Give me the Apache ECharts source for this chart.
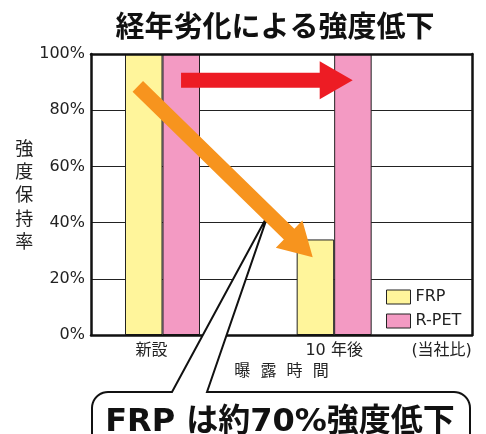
<!DOCTYPE html>
<html>
<head>
<meta charset="utf-8">
<script src="https://cdn.jsdelivr.net/npm/echarts@6/dist/echarts.min.js"></script>
<style>
  html, body { margin: 0; padding: 0; background: #fff; }
  #chart { width: 486px; height: 434px; }
</style>
</head>
<body>
<div id="chart"></div>
<script>
// Strength retention before and after 10 years of exposure
const periods = ['新設', '10 年後'];
const periodX = [0, 1];
const frpRetention = [100, 34];
const rpetRetention = [100, 100];
const yTickValues = [0, 20, 40, 60, 80, 100];
const noteText = '(当社比)';
const seriesNames = ['FRP', 'R-PET'];

// where the bottom labels sit along the x value axis
const xLabelValues = [-0.064, 1.0, 1.626];
const xLabelTexts = [periods[0], periods[1], noteText];

const LATIN = '"DejaVu Sans", "Noto Sans CJK JP", sans-serif';
const CJK = '"Noto Sans CJK JP", sans-serif';

const chart = echarts.init(document.getElementById('chart'), null, { renderer: 'canvas' });

const X_MIN = -0.4166, X_MAX = 1.803;

function frameLine() {
  return { show: true, onZero: false, lineStyle: { color: '#111', width: 2.5 } };
}

function lineOnlyAxis(extra) {
  return Object.assign({
    axisLabel: { show: false },
    axisTick: { show: false },
    splitLine: { show: false },
    axisLine: frameLine()
  }, extra);
}

chart.setOption({
  animation: false,
  backgroundColor: '#fff',
  grid: { left: 91, right: 14, top: 54, bottom: 99 },
  legend: {
    data: seriesNames,
    orient: 'vertical',
    left: 386,
    top: 289,
    padding: 0,
    itemWidth: 24,
    itemHeight: 14,
    itemGap: 8,
    icon: 'rect',
    itemStyle: { borderColor: '#222', borderWidth: 1 },
    textStyle: { fontFamily: LATIN, fontSize: 16, color: '#222' }
  },
  xAxis: [
    {
      type: 'value',
      min: X_MIN,
      max: X_MAX,
      z: 10,
      splitLine: { show: false },
      axisTick: { show: false },
      axisLine: frameLine(),
      axisLabel: {
        customValues: xLabelValues,
        margin: 8,
        fontFamily: LATIN,
        fontSize: 16,
        color: '#222',
        formatter: function (v) {
          for (let i = 0; i < xLabelValues.length; i++) {
            if (Math.abs(xLabelValues[i] - v) < 1e-6) return xLabelTexts[i];
          }
          return '';
        }
      },
      name: '曝  露  時  間',
      nameLocation: 'middle',
      nameGap: 28,
      nameTextStyle: { fontFamily: LATIN, fontSize: 16, color: '#222' }
    },
    lineOnlyAxis({ type: 'value', position: 'top', min: X_MIN, max: X_MAX, z: 10 })
  ],
  yAxis: [
    {
      type: 'value',
      min: 0,
      max: 100,
      interval: 20,
      axisTick: { show: false },
      axisLine: frameLine(),
      splitLine: { show: true, lineStyle: { color: '#222', width: 1 } },
      axisLabel: {
        formatter: '{value}%',
        margin: 6,
        fontFamily: LATIN,
        fontSize: 16,
        color: '#222',
        customValues: yTickValues
      },
      name: '強\n度\n保\n持\n率',
      nameLocation: 'middle',
      nameRotate: 0,
      nameGap: 55,
      nameTextStyle: { fontFamily: CJK, fontSize: 18, lineHeight: 23.3, color: '#222' }
    },
    lineOnlyAxis({ type: 'value', position: 'right', min: 0, max: 100, z: 10 })
  ],
  series: [
    {
      name: seriesNames[0],
      type: 'bar',
      xAxisIndex: 0,
      yAxisIndex: 0,
      barWidth: 37.5,
      barGap: '0%',
      itemStyle: { color: '#FFF59B', borderColor: '#222', borderWidth: 1 },
      data: periodX.map((x, i) => [x, frpRetention[i]])
    },
    {
      name: seriesNames[1],
      type: 'bar',
      xAxisIndex: 0,
      yAxisIndex: 0,
      barWidth: 37.5,
      barGap: '0%',
      itemStyle: { color: '#F39AC3', borderColor: '#222', borderWidth: 1 },
      data: periodX.map((x, i) => [x, rpetRetention[i]])
    }
  ]
});

// ---- annotations: arrows and callout, anchored in data coordinates ----
function toPx(pt) {
  return chart.convertToPixel({ xAxisIndex: 0, yAxisIndex: 0 }, pt);
}

function arrowPoints(s, e, shaftHalf, headLen, headHalf) {
  const dx = e[0] - s[0], dy = e[1] - s[1];
  const len = Math.sqrt(dx * dx + dy * dy);
  const ux = dx / len, uy = dy / len;
  const nx = -uy, ny = ux;
  const bx = e[0] - ux * headLen, by = e[1] - uy * headLen;
  return [
    [s[0] + nx * shaftHalf, s[1] + ny * shaftHalf],
    [bx + nx * shaftHalf, by + ny * shaftHalf],
    [bx + nx * headHalf, by + ny * headHalf],
    [e[0], e[1]],
    [bx - nx * headHalf, by - ny * headHalf],
    [bx - nx * shaftHalf, by - ny * shaftHalf],
    [s[0] - nx * shaftHalf, s[1] - ny * shaftHalf]
  ];
}

// quarter-circle corner points, from angle a0 to a1 (radians)
function cornerPts(cx, cy, r, a0, a1) {
  const pts = [];
  const n = 10;
  for (let i = 0; i <= n; i++) {
    const a = a0 + (a1 - a0) * i / n;
    pts.push([cx + r * Math.cos(a), cy + r * Math.sin(a)]);
  }
  return pts;
}

// R-PET keeps its strength; FRP drops
const keepArrow = { from: [0.108, 90.7], to: [1.108, 90.7], color: '#ED1C24' };
const dropArrow = { from: [-0.144, 88.5], to: [0.875, 27.7], color: '#F7941E' };
const calloutTip = [0.616, 43.0];

const tip = toPx(calloutTip);
const box = { l: 92, r: 470, t: 392, b: 480, rad: 16, tailL: 172, tailR: 207 };
const calloutPts = [[box.tailL, box.t]]
  .concat(cornerPts(box.l + box.rad, box.t + box.rad, box.rad, -Math.PI / 2, -Math.PI))
  .concat([[box.l, box.b], [box.r, box.b]])
  .concat(cornerPts(box.r - box.rad, box.t + box.rad, box.rad, 0, -Math.PI / 2))
  .concat([[box.tailR, box.t], [tip[0], tip[1]]]);

const graphics = [
  {
    type: 'text',
    x: 275, y: 26, z: 100,
    style: {
      text: '経年劣化による強度低下',
      fontFamily: CJK, fontSize: 29, fontWeight: 'bold',
      fill: '#111', textAlign: 'center', textVerticalAlign: 'middle'
    }
  },
  {
    type: 'polygon', z: 90,
    shape: { points: calloutPts },
    style: { fill: '#fff', stroke: '#111', lineWidth: 2, lineJoin: 'miter' }
  },
  {
    type: 'text',
    x: 280, y: 423, z: 100,
    style: {
      text: 'FRP は約70%強度低下',
      fontFamily: LATIN, fontSize: 32, fontWeight: 'bold',
      fill: '#111', textAlign: 'center', textVerticalAlign: 'middle'
    }
  }
];

[keepArrow, dropArrow].forEach(function (a) {
  graphics.push({
    type: 'polygon', z: 95,
    shape: { points: arrowPoints(toPx(a.from), toPx(a.to), 7.5, 33, 19) },
    style: { fill: a.color }
  });
});

chart.setOption({ graphic: graphics });
</script>
</body>
</html>
